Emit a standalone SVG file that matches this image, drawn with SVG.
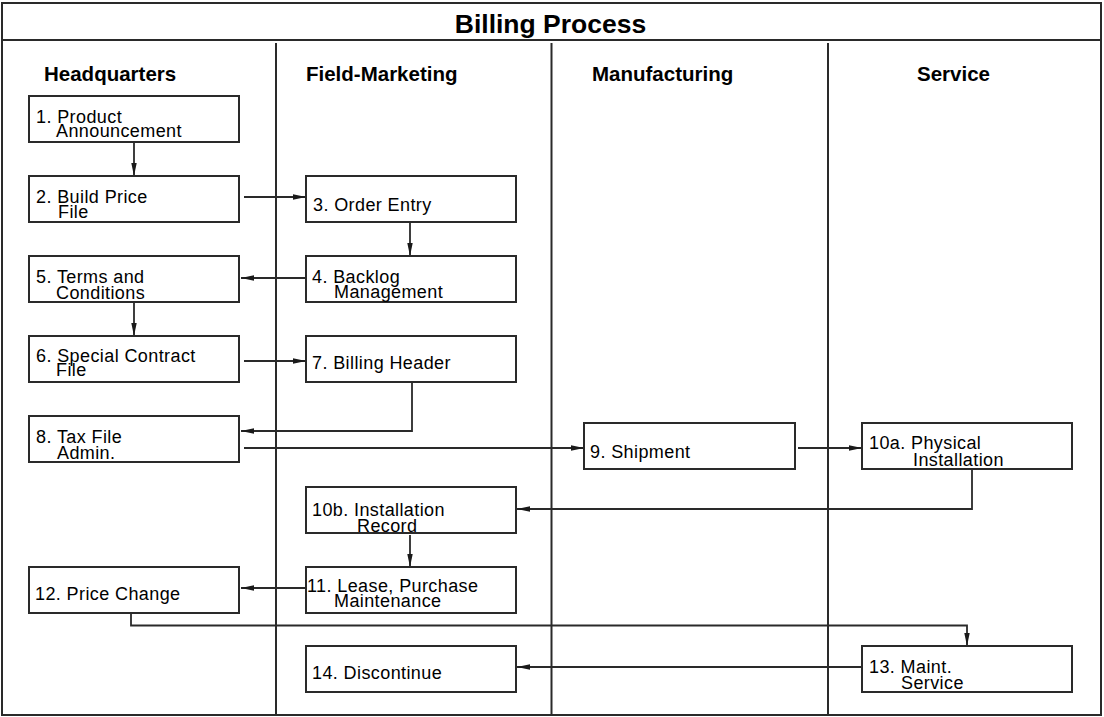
<svg xmlns="http://www.w3.org/2000/svg" width="1104" height="717" viewBox="0 0 1104 717">
<style>
.frame{fill:none;stroke:#2a2a2a;stroke-width:2}
.lane{fill:none;stroke:#2a2a2a;stroke-width:2}
.box{fill:#fff;stroke:#2a2a2a;stroke-width:2}
.t{font-family:"Liberation Sans",Arial,Helvetica,sans-serif;font-size:18px;letter-spacing:0.4px;fill:#000}
.h{font-family:"Liberation Sans",Arial,Helvetica,sans-serif;font-size:20.5px;font-weight:bold;fill:#000}
.title{font-family:"Liberation Sans",Arial,Helvetica,sans-serif;font-size:26.5px;font-weight:bold;fill:#000}
.c{fill:none;stroke:#2a2a2a;stroke-width:1.8;marker-end:url(#arr)}
</style>
<defs>
<marker id="arr" markerUnits="userSpaceOnUse" markerWidth="14" markerHeight="8" refX="13" refY="3" orient="auto">
<path d="M0,0.3 L13,3 L0,5.7 Z" fill="#1a1a1a"/>
</marker>
</defs>
<rect width="1104" height="717" fill="#fff"/>
<g id="frame">
<rect class="frame" x="2" y="3" width="1099" height="712"/>
<line class="frame" x1="2" y1="40" x2="1101" y2="40"/>
<line class="lane" x1="276" y1="43" x2="276" y2="715"/>
<line class="lane" x1="551.5" y1="43" x2="551.5" y2="715"/>
<line class="lane" x1="828" y1="43" x2="828" y2="715"/>
<text class="title" x="550.5" y="33" text-anchor="middle">Billing Process</text>
<text class="h" x="44" y="81">Headquarters</text>
<text class="h" x="306" y="81">Field-Marketing</text>
<text class="h" x="592" y="81">Manufacturing</text>
<text class="h" x="917" y="81">Service</text>
</g>
<g id="connectors">
<path class="c" d="M134,143 V176"/>
<path class="c" d="M244,197 H306"/>
<path class="c" d="M410,223 V256"/>
<path class="c" d="M306,278 H241"/>
<path class="c" d="M134,303 V336"/>
<path class="c" d="M244,361 H306"/>
<path class="c" d="M412,382 V431 H241"/>
<path class="c" d="M244,448 H584"/>
<path class="c" d="M798,448 H862"/>
<path class="c" d="M972,469 V509 H517"/>
<path class="c" d="M410,535 V567"/>
<path class="c" d="M306,588 H241"/>
<path class="c" d="M131,613 V625.5 H967 V646"/>
<path class="c" d="M862,667 H517"/>
</g>
<g id="n1"><rect class="box" x="29" y="96" width="210" height="46"/><text class="t" x="36" y="123">1. Product</text><text class="t" x="56" y="137">Announcement</text></g>
<g id="n2"><rect class="box" x="29" y="176" width="210" height="46"/><text class="t" x="36" y="203">2. Build Price</text><text class="t" x="58" y="218">File</text></g>
<g id="n3"><rect class="box" x="306" y="176" width="210" height="46"/><text class="t" x="313" y="211">3. Order Entry</text></g>
<g id="n4"><rect class="box" x="306" y="256" width="210" height="46"/><text class="t" x="312" y="283">4. Backlog</text><text class="t" x="334" y="298">Management</text></g>
<g id="n5"><rect class="box" x="29" y="256" width="210" height="46"/><text class="t" x="36" y="283">5. Terms and</text><text class="t" x="56" y="299">Conditions</text></g>
<g id="n6"><rect class="box" x="29" y="336" width="210" height="46"/><text class="t" x="36" y="362">6. Special Contract</text><text class="t" x="56" y="376">File</text></g>
<g id="n7"><rect class="box" x="306" y="336" width="210" height="46"/><text class="t" x="312" y="369">7. Billing Header</text></g>
<g id="n8"><rect class="box" x="29" y="416" width="210" height="46"/><text class="t" x="36" y="443">8. Tax File</text><text class="t" x="57" y="459">Admin.</text></g>
<g id="n9"><rect class="box" x="584" y="423" width="211" height="46"/><text class="t" x="590" y="458">9. Shipment</text></g>
<g id="n10a"><rect class="box" x="862" y="423" width="210" height="46"/><text class="t" x="869" y="449">10a. Physical</text><text class="t" x="913" y="466">Installation</text></g>
<g id="n10b"><rect class="box" x="306" y="487" width="210" height="46"/><text class="t" x="312" y="516">10b. Installation</text><text class="t" x="357" y="532">Record</text></g>
<g id="n11"><rect class="box" x="306" y="567" width="210" height="46"/><text class="t" x="307" y="592">11. Lease, Purchase</text><text class="t" x="334" y="607">Maintenance</text></g>
<g id="n12"><rect class="box" x="29" y="567" width="210" height="46"/><text class="t" x="35" y="600">12. Price Change</text></g>
<g id="n13"><rect class="box" x="862" y="646" width="210" height="46"/><text class="t" x="869" y="673">13. Maint.</text><text class="t" x="901" y="689">Service</text></g>
<g id="n14"><rect class="box" x="306" y="646" width="210" height="46"/><text class="t" x="312" y="679">14. Discontinue</text></g>
</svg>
